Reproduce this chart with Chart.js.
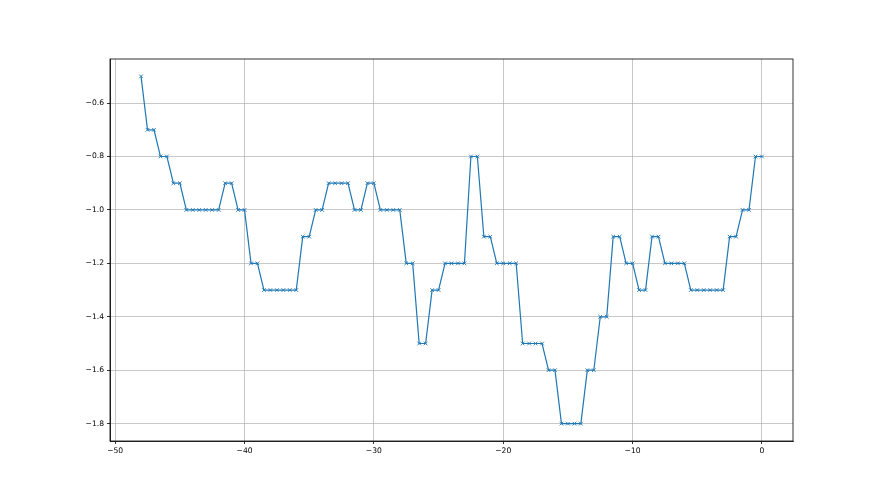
<!DOCTYPE html>
<html>
<head>
<meta charset="utf-8">
<script src="https://cdn.jsdelivr.net/npm/chart.js@4/dist/chart.umd.min.js"></script>
<style>
  body { margin: 0; background: #fff; }
  canvas { display: block; }
</style>
</head>
<body>
<canvas id="plot" width="880" height="495"></canvas>
<script>
// x positions (step of 0.5 from -48 up to 0)
const xValues = [
  -48, -47.5, -47, -46.5, -46, -45.5, -45, -44.5, -44, -43.5,
  -43, -42.5, -42, -41.5, -41, -40.5, -40, -39.5, -39, -38.5,
  -38, -37.5, -37, -36.5, -36, -35.5, -35, -34.5, -34, -33.5,
  -33, -32.5, -32, -31.5, -31, -30.5, -30, -29.5, -29, -28.5,
  -28, -27.5, -27, -26.5, -26, -25.5, -25, -24.5, -24, -23.5,
  -23, -22.5, -22, -21.5, -21, -20.5, -20, -19.5, -19, -18.5,
  -18, -17.5, -17, -16.5, -16, -15.5, -15, -14.5, -14, -13.5,
  -13, -12.5, -12, -11.5, -11, -10.5, -10, -9.5, -9, -8.5,
  -8, -7.5, -7, -6.5, -6, -5.5, -5, -4.5, -4, -3.5,
  -3, -2.5, -2, -1.5, -1, -0.5, 0
];

const yValues = [
  -0.5, -0.7, -0.7, -0.8, -0.8, -0.9, -0.9, -1.0, -1.0, -1.0,
  -1.0, -1.0, -1.0, -0.9, -0.9, -1.0, -1.0, -1.2, -1.2, -1.3,
  -1.3, -1.3, -1.3, -1.3, -1.3, -1.1, -1.1, -1.0, -1.0, -0.9,
  -0.9, -0.9, -0.9, -1.0, -1.0, -0.9, -0.9, -1.0, -1.0, -1.0,
  -1.0, -1.2, -1.2, -1.5, -1.5, -1.3, -1.3, -1.2, -1.2, -1.2,
  -1.2, -0.8, -0.8, -1.1, -1.1, -1.2, -1.2, -1.2, -1.2, -1.5,
  -1.5, -1.5, -1.5, -1.6, -1.6, -1.8, -1.8, -1.8, -1.8, -1.6,
  -1.6, -1.4, -1.4, -1.1, -1.1, -1.2, -1.2, -1.3, -1.3, -1.1,
  -1.1, -1.2, -1.2, -1.2, -1.2, -1.3, -1.3, -1.3, -1.3, -1.3,
  -1.3, -1.1, -1.1, -1.0, -1.0, -0.8, -0.8
];

const xTicks = [-50, -40, -30, -20, -10, 0];
const yTicks = [-0.6, -0.8, -1.0, -1.2, -1.4, -1.6, -1.8];

// unicode minus like matplotlib
const fmt = (v, digits) => (v < 0 ? '\u2212' : '') + Math.abs(v).toFixed(digits);

// matplotlib draws a full box around the axes
const frame = {
  id: 'frame',
  afterDraw(chart) {
    const a = chart.chartArea;
    const c = chart.ctx;
    c.save();
    c.strokeStyle = '#000';
    c.lineWidth = 0.8;
    c.strokeRect(a.left, a.top, a.right - a.left, a.bottom - a.top);
    c.restore();
  }
};

new Chart(document.getElementById('plot'), {
  type: 'line',
  data: {
    datasets: [{
      data: xValues.map((x, i) => ({ x: x, y: yValues[i] })),
      borderColor: '#1f77b4',
      backgroundColor: '#1f77b4',
      borderWidth: 1.2,
      pointStyle: 'crossRot',
      pointRadius: 2.6,
      pointBorderWidth: 0.9,
      pointBorderColor: '#1f77b4',
      tension: 0,
      fill: false
    }]
  },
  options: {
    responsive: false,
    animation: false,
    devicePixelRatio: 1,
    layout: { padding: { left: 0, top: 59, right: 87, bottom: 0 } },
    plugins: { legend: { display: false }, tooltip: { enabled: false } },
    scales: {
      x: {
        type: 'linear',
        min: -50.4,
        max: 2.4,
        afterBuildTicks: s => { s.ticks = xTicks.map(v => ({ value: v })); },
        afterFit: s => { s.height = 54; },
        grid: { color: '#b0b0b0', lineWidth: 0.7, tickColor: '#000', tickLength: 3, tickWidth: 0.8 },
        border: { display: true, color: '#000', width: 0.8 },
        ticks: {
          color: '#000', padding: 2, maxRotation: 0,
          font: { family: 'DejaVu Sans', size: 7.6 },
          callback: v => fmt(v, 0)
        }
      },
      y: {
        type: 'linear',
        min: -1.865,
        max: -0.435,
        afterBuildTicks: s => { s.ticks = yTicks.map(v => ({ value: v })); },
        afterFit: s => { s.width = 110; },
        grid: { color: '#b0b0b0', lineWidth: 0.7, tickColor: '#000', tickLength: 3, tickWidth: 0.8 },
        border: { display: true, color: '#000', width: 0.8 },
        ticks: {
          color: '#000', padding: 3,
          font: { family: 'DejaVu Sans', size: 7.6 },
          callback: v => fmt(v, 1)
        }
      }
    }
  },
  plugins: [frame]
});
</script>
</body>
</html>
